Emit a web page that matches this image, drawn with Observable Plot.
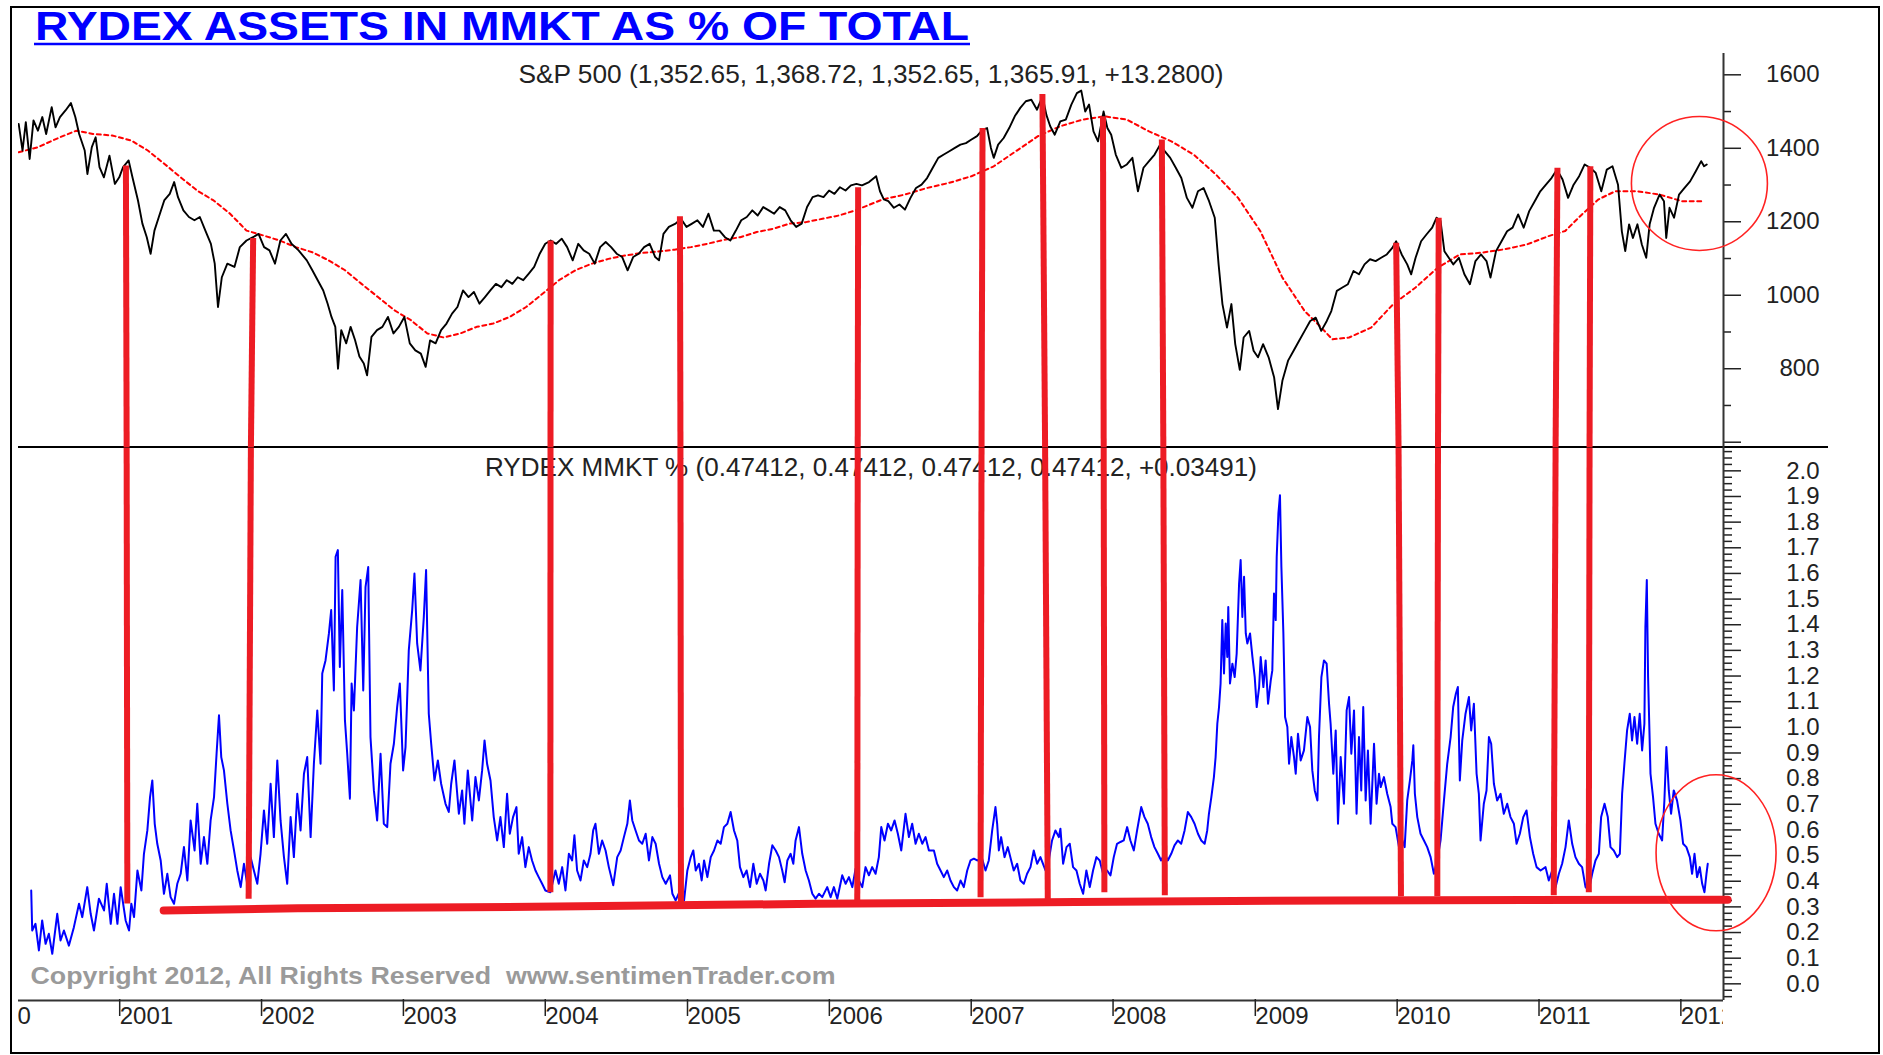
<!DOCTYPE html>
<html><head><meta charset="utf-8">
<script src="https://cdn.jsdelivr.net/npm/d3@7"></script>
<script src="https://cdn.jsdelivr.net/npm/@observablehq/plot@0.6"></script>
<style>
body{margin:0;background:#fff;}
#chart{position:relative;width:1883px;height:1055px;background:#fff;overflow:hidden;font-family:"Liberation Sans",Arial,sans-serif;}
#frame{position:absolute;left:10px;top:6px;width:1870px;height:1048px;border:2.5px solid #000;box-sizing:border-box;}
#sep{position:absolute;left:18px;top:446.3px;width:1810px;height:1.6px;background:#000;}
#top{position:absolute;left:18px;top:46px;}
#bottom{position:absolute;left:18px;top:447px;}
#xaxis{position:absolute;left:18px;top:999px;}
#top svg,#bottom svg,#xaxis svg{overflow:hidden;background:transparent;}
#title{position:absolute;left:0;top:0;}
</style></head><body>
<div id="chart">
<div id="frame"></div>
<svg id="title" width="1000" height="50"></svg>
<div id="sep"></div>
<div id="top"></div>
<div id="bottom"></div>
<div id="xaxis"></div>
</div>
<script>
const titleText = "RYDEX ASSETS IN MMKT AS % OF TOTAL";
const spxLabel = "S&P 500 (1,352.65, 1,368.72, 1,352.65, 1,365.91, +13.2800)";
const mmktLabel = "RYDEX MMKT % (0.47412, 0.47412, 0.47412, 0.47412, +0.03491)";
const copyrightText = "Copyright 2012, All Rights Reserved  www.sentimenTrader.com";
const yearTicks = [2000,2001,2002,2003,2004,2005,2006,2007,2008,2009,2010,2011,2012];
const spxTicks = [600,800,1000,1200,1400,1600];
const spxMinorTicks = [700,900,1100,1300,1500];
const mmktTicks = [0,0.1,0.2,0.3,0.4,0.5,0.6,0.7,0.8,0.9,1.0,1.1,1.2,1.3,1.4,1.5,1.6,1.7,1.8,1.9,2.0];

// S&P 500 [decimal year, value]
const spx = [[2000.304,1466],[2000.331,1394],[2000.354,1471],[2000.381,1371],[2000.408,1476],[2000.439,1448],[2000.470,1485],[2000.497,1439],[2000.536,1512],[2000.563,1457],[2000.594,1485],[2000.633,1503],[2000.671,1523],[2000.702,1485],[2000.729,1439],[2000.768,1394],[2000.787,1330],[2000.818,1403],[2000.845,1430],[2000.872,1349],[2000.903,1321],[2000.942,1380],[2000.980,1303],[2001.011,1321],[2001.038,1349],[2001.077,1367],[2001.104,1321],[2001.143,1258],[2001.174,1195],[2001.205,1158],[2001.232,1113],[2001.259,1176],[2001.290,1213],[2001.328,1258],[2001.367,1276],[2001.398,1308],[2001.425,1267],[2001.463,1231],[2001.502,1213],[2001.541,1204],[2001.579,1213],[2001.618,1176],[2001.657,1140],[2001.684,1086],[2001.707,968],[2001.734,1049],[2001.773,1086],[2001.823,1077],[2001.861,1131],[2001.908,1149],[2001.954,1158],[2001.993,1167],[2002.032,1131],[2002.070,1122],[2002.109,1086],[2002.147,1149],[2002.186,1167],[2002.225,1140],[2002.275,1122],[2002.333,1095],[2002.372,1068],[2002.410,1041],[2002.449,1013],[2002.480,977],[2002.507,941],[2002.534,914],[2002.553,800],[2002.576,905],[2002.611,869],[2002.642,914],[2002.673,878],[2002.704,833],[2002.735,814],[2002.758,782],[2002.789,887],[2002.828,905],[2002.866,914],[2002.905,941],[2002.944,896],[2002.982,914],[2003.021,941],[2003.059,869],[2003.098,850],[2003.137,841],[2003.171,805],[2003.202,877],[2003.241,869],[2003.280,905],[2003.318,923],[2003.357,950],[2003.395,968],[2003.434,1013],[2003.473,995],[2003.511,1009],[2003.550,977],[2003.589,995],[2003.627,1013],[2003.666,1031],[2003.705,1022],[2003.743,1041],[2003.782,1031],[2003.820,1049],[2003.859,1041],[2003.898,1059],[2003.936,1077],[2003.975,1113],[2004.014,1140],[2004.052,1149],[2004.091,1140],[2004.130,1154],[2004.168,1131],[2004.207,1095],[2004.246,1140],[2004.284,1122],[2004.323,1113],[2004.362,1086],[2004.400,1131],[2004.439,1145],[2004.477,1131],[2004.516,1113],[2004.555,1104],[2004.593,1068],[2004.632,1104],[2004.671,1113],[2004.709,1131],[2004.748,1140],[2004.787,1104],[2004.814,1095],[2004.845,1167],[2004.883,1186],[2004.930,1195],[2004.968,1208],[2005.007,1186],[2005.046,1195],[2005.084,1204],[2005.123,1186],[2005.162,1222],[2005.200,1176],[2005.239,1176],[2005.278,1158],[2005.316,1149],[2005.355,1176],[2005.393,1204],[2005.432,1213],[2005.471,1231],[2005.509,1217],[2005.548,1240],[2005.587,1231],[2005.625,1222],[2005.664,1240],[2005.703,1231],[2005.741,1204],[2005.780,1186],[2005.819,1195],[2005.857,1240],[2005.896,1267],[2005.934,1272],[2005.973,1267],[2006.012,1285],[2006.050,1276],[2006.089,1294],[2006.128,1285],[2006.166,1299],[2006.205,1303],[2006.244,1299],[2006.294,1308],[2006.344,1324],[2006.371,1283],[2006.398,1261],[2006.430,1256],[2006.469,1238],[2006.508,1247],[2006.547,1233],[2006.586,1265],[2006.625,1292],[2006.664,1301],[2006.703,1319],[2006.743,1347],[2006.782,1374],[2006.821,1383],[2006.860,1392],[2006.899,1401],[2006.938,1410],[2006.977,1414],[2007.016,1424],[2007.055,1433],[2007.094,1451],[2007.126,1455],[2007.153,1401],[2007.173,1374],[2007.204,1410],[2007.243,1428],[2007.282,1455],[2007.321,1487],[2007.360,1510],[2007.399,1528],[2007.438,1532],[2007.478,1505],[2007.517,1541],[2007.544,1491],[2007.571,1460],[2007.603,1437],[2007.642,1473],[2007.681,1478],[2007.720,1519],[2007.759,1550],[2007.790,1557],[2007.818,1500],[2007.845,1519],[2007.876,1446],[2007.908,1419],[2007.947,1500],[2007.974,1455],[2008.001,1437],[2008.033,1383],[2008.072,1347],[2008.111,1356],[2008.150,1374],[2008.189,1283],[2008.228,1347],[2008.267,1365],[2008.306,1383],[2008.345,1410],[2008.377,1392],[2008.416,1374],[2008.455,1347],[2008.494,1319],[2008.533,1265],[2008.572,1238],[2008.611,1283],[2008.650,1292],[2008.689,1256],[2008.729,1211],[2008.756,1084],[2008.783,976],[2008.815,912],[2008.846,976],[2008.873,867],[2008.905,797],[2008.932,885],[2008.971,903],[2009.002,849],[2009.033,831],[2009.069,867],[2009.108,831],[2009.147,776],[2009.174,690],[2009.205,767],[2009.245,822],[2009.284,849],[2009.323,876],[2009.362,903],[2009.401,930],[2009.440,939],[2009.479,903],[2009.518,930],[2009.550,957],[2009.589,1012],[2009.628,1021],[2009.667,1030],[2009.706,1066],[2009.745,1057],[2009.784,1084],[2009.823,1098],[2009.862,1093],[2009.901,1102],[2009.941,1111],[2009.980,1129],[2010.007,1147],[2010.046,1111],[2010.085,1084],[2010.113,1057],[2010.144,1102],[2010.183,1147],[2010.222,1166],[2010.261,1184],[2010.292,1211],[2010.320,1202],[2010.347,1120],[2010.378,1102],[2010.410,1084],[2010.449,1102],[2010.488,1057],[2010.527,1030],[2010.566,1093],[2010.605,1111],[2010.644,1093],[2010.672,1048],[2010.711,1120],[2010.750,1147],[2010.789,1174],[2010.828,1184],[2010.867,1220],[2010.906,1184],[2010.945,1229],[2010.984,1256],[2011.023,1283],[2011.063,1301],[2011.102,1319],[2011.141,1342],[2011.180,1315],[2011.219,1265],[2011.258,1301],[2011.297,1324],[2011.336,1356],[2011.375,1347],[2011.414,1333],[2011.453,1283],[2011.492,1342],[2011.532,1351],[2011.571,1301],[2011.598,1174],[2011.622,1120],[2011.649,1193],[2011.676,1156],[2011.708,1193],[2011.739,1138],[2011.770,1102],[2011.794,1193],[2011.825,1238],[2011.864,1274],[2011.895,1256],[2011.911,1156],[2011.934,1238],[2011.966,1211],[2012.001,1274],[2012.040,1292],[2012.079,1310],[2012.118,1337],[2012.157,1365],[2012.177,1351],[2012.196,1356]];

// S&P 500 moving average (red dashed)
const spxMA = [[2000.304,1389],[2000.439,1403],[2000.594,1430],[2000.710,1448],[2000.826,1439],[2000.961,1435],[2001.096,1421],[2001.212,1394],[2001.328,1358],[2001.444,1321],[2001.560,1285],[2001.676,1258],[2001.792,1222],[2001.908,1176],[2002.024,1163],[2002.140,1149],[2002.256,1131],[2002.372,1117],[2002.487,1095],[2002.603,1068],[2002.719,1031],[2002.835,995],[2002.951,959],[2003.067,932],[2003.183,896],[2003.299,885],[2003.415,896],[2003.531,914],[2003.647,923],[2003.763,941],[2003.879,968],[2003.995,1004],[2004.111,1041],[2004.226,1068],[2004.342,1086],[2004.458,1099],[2004.574,1108],[2004.690,1115],[2004.806,1119],[2004.922,1124],[2005.038,1131],[2005.154,1140],[2005.270,1151],[2005.386,1158],[2005.502,1172],[2005.618,1181],[2005.734,1195],[2005.849,1199],[2005.965,1208],[2006.081,1217],[2006.197,1231],[2006.391,1261],[2006.547,1274],[2006.703,1292],[2006.860,1306],[2007.016,1324],[2007.173,1351],[2007.329,1392],[2007.485,1433],[2007.642,1460],[2007.798,1478],[2007.954,1487],[2008.111,1478],[2008.267,1446],[2008.424,1419],[2008.580,1383],[2008.736,1329],[2008.893,1265],[2009.049,1175],[2009.205,1048],[2009.362,957],[2009.479,912],[2009.557,880],[2009.675,885],[2009.831,912],[2009.987,976],[2010.144,1021],[2010.300,1075],[2010.456,1111],[2010.613,1116],[2010.769,1125],[2010.926,1138],[2011.082,1161],[2011.199,1175],[2011.317,1220],[2011.434,1261],[2011.551,1283],[2011.708,1283],[2011.864,1274],[2012.021,1256],[2012.177,1256]];

// Rydex MMKT % [decimal year, value]
const mmkt = [[2000.392,0.364],[2000.399,0.208],[2000.422,0.234],[2000.446,0.130],[2000.469,0.247],[2000.493,0.156],[2000.516,0.195],[2000.540,0.117],[2000.575,0.273],[2000.598,0.169],[2000.622,0.208],[2000.657,0.149],[2000.692,0.221],[2000.728,0.312],[2000.751,0.260],[2000.786,0.377],[2000.810,0.273],[2000.833,0.208],[2000.868,0.332],[2000.904,0.286],[2000.923,0.390],[2000.951,0.234],[2000.974,0.351],[2000.998,0.234],[2001.021,0.377],[2001.056,0.247],[2001.080,0.208],[2001.096,0.312],[2001.115,0.260],[2001.139,0.442],[2001.167,0.364],[2001.185,0.507],[2001.209,0.598],[2001.228,0.728],[2001.244,0.793],[2001.261,0.624],[2001.279,0.546],[2001.303,0.481],[2001.326,0.351],[2001.350,0.429],[2001.373,0.338],[2001.397,0.312],[2001.420,0.390],[2001.444,0.429],[2001.467,0.533],[2001.491,0.403],[2001.514,0.637],[2001.542,0.520],[2001.561,0.702],[2001.585,0.468],[2001.608,0.572],[2001.632,0.468],[2001.655,0.637],[2001.679,0.728],[2001.697,0.897],[2001.714,1.047],[2001.730,0.884],[2001.749,0.832],[2001.773,0.702],[2001.796,0.598],[2001.820,0.520],[2001.843,0.442],[2001.867,0.377],[2001.890,0.468],[2001.913,0.390],[2001.937,0.494],[2001.960,0.442],[2001.984,0.390],[2002.007,0.507],[2002.031,0.676],[2002.054,0.546],[2002.078,0.780],[2002.101,0.572],[2002.125,0.871],[2002.148,0.637],[2002.172,0.494],[2002.195,0.390],[2002.219,0.650],[2002.242,0.494],[2002.266,0.741],[2002.289,0.598],[2002.313,0.819],[2002.336,0.884],[2002.360,0.572],[2002.383,0.858],[2002.407,1.066],[2002.430,0.858],[2002.442,1.210],[2002.465,1.261],[2002.489,1.366],[2002.505,1.457],[2002.524,1.144],[2002.536,1.665],[2002.552,1.691],[2002.566,1.235],[2002.583,1.535],[2002.602,1.027],[2002.618,0.897],[2002.637,0.722],[2002.649,1.171],[2002.665,1.066],[2002.688,1.391],[2002.712,1.574],[2002.731,1.144],[2002.747,1.547],[2002.766,1.625],[2002.782,0.962],[2002.806,0.754],[2002.829,0.637],[2002.853,0.897],[2002.876,0.624],[2002.900,0.611],[2002.923,0.858],[2002.947,0.936],[2002.970,1.079],[2002.989,1.171],[2003.012,0.832],[2003.029,0.923],[2003.052,1.300],[2003.076,1.457],[2003.092,1.600],[2003.111,1.327],[2003.134,1.222],[2003.158,1.430],[2003.174,1.613],[2003.193,1.053],[2003.210,0.936],[2003.233,0.793],[2003.257,0.871],[2003.280,0.780],[2003.311,0.702],[2003.334,0.670],[2003.351,0.780],[2003.374,0.871],[2003.405,0.663],[2003.428,0.754],[2003.444,0.624],[2003.468,0.832],[2003.499,0.637],[2003.522,0.806],[2003.546,0.715],[2003.569,0.832],[2003.586,0.949],[2003.604,0.858],[2003.628,0.793],[2003.651,0.650],[2003.675,0.559],[2003.698,0.650],[2003.722,0.533],[2003.745,0.741],[2003.764,0.585],[2003.787,0.650],[2003.811,0.689],[2003.827,0.507],[2003.851,0.572],[2003.874,0.455],[2003.898,0.533],[2003.921,0.481],[2003.945,0.442],[2003.968,0.416],[2003.992,0.390],[2004.015,0.364],[2004.050,0.357],[2004.086,0.442],[2004.109,0.390],[2004.133,0.455],[2004.156,0.364],[2004.180,0.507],[2004.203,0.481],[2004.219,0.579],[2004.238,0.442],[2004.262,0.403],[2004.285,0.481],[2004.309,0.455],[2004.332,0.507],[2004.351,0.598],[2004.367,0.624],[2004.391,0.507],[2004.414,0.559],[2004.438,0.520],[2004.461,0.455],[2004.492,0.384],[2004.520,0.494],[2004.544,0.520],[2004.567,0.572],[2004.591,0.624],[2004.609,0.715],[2004.626,0.637],[2004.649,0.598],[2004.673,0.559],[2004.696,0.546],[2004.720,0.585],[2004.743,0.481],[2004.767,0.572],[2004.790,0.546],[2004.814,0.468],[2004.837,0.416],[2004.861,0.390],[2004.891,0.423],[2004.908,0.351],[2004.931,0.325],[2004.962,0.364],[2004.990,0.325],[2005.013,0.442],[2005.037,0.494],[2005.055,0.520],[2005.072,0.442],[2005.095,0.468],[2005.114,0.403],[2005.131,0.481],[2005.154,0.416],[2005.178,0.494],[2005.201,0.520],[2005.225,0.559],[2005.248,0.546],[2005.271,0.611],[2005.295,0.624],[2005.318,0.670],[2005.342,0.598],[2005.365,0.559],[2005.384,0.455],[2005.408,0.416],[2005.431,0.442],[2005.455,0.377],[2005.478,0.468],[2005.502,0.390],[2005.525,0.429],[2005.549,0.403],[2005.565,0.364],[2005.589,0.468],[2005.612,0.540],[2005.636,0.520],[2005.659,0.494],[2005.682,0.442],[2005.699,0.396],[2005.718,0.481],[2005.741,0.507],[2005.760,0.468],[2005.776,0.559],[2005.800,0.611],[2005.823,0.507],[2005.847,0.442],[2005.870,0.403],[2005.894,0.351],[2005.917,0.332],[2005.941,0.351],[2005.964,0.338],[2005.999,0.377],[2006.023,0.338],[2006.046,0.377],[2006.070,0.332],[2006.105,0.423],[2006.129,0.390],[2006.152,0.416],[2006.176,0.377],[2006.199,0.449],[2006.222,0.403],[2006.246,0.377],[2006.269,0.455],[2006.293,0.423],[2006.316,0.455],[2006.340,0.429],[2006.363,0.494],[2006.380,0.611],[2006.403,0.559],[2006.427,0.624],[2006.450,0.598],[2006.474,0.637],[2006.497,0.585],[2006.521,0.520],[2006.551,0.663],[2006.575,0.572],[2006.598,0.624],[2006.622,0.546],[2006.645,0.585],[2006.669,0.546],[2006.692,0.572],[2006.716,0.520],[2006.751,0.520],[2006.774,0.468],[2006.798,0.442],[2006.821,0.416],[2006.845,0.442],[2006.868,0.403],[2006.892,0.377],[2006.915,0.364],[2006.939,0.403],[2006.962,0.377],[2006.986,0.442],[2007.009,0.481],[2007.033,0.488],[2007.056,0.481],[2007.091,0.488],[2007.115,0.442],[2007.138,0.481],[2007.162,0.598],[2007.185,0.689],[2007.197,0.624],[2007.209,0.520],[2007.225,0.572],[2007.249,0.494],[2007.272,0.533],[2007.296,0.481],[2007.314,0.442],[2007.338,0.468],[2007.361,0.403],[2007.385,0.390],[2007.408,0.429],[2007.432,0.455],[2007.455,0.520],[2007.479,0.468],[2007.502,0.494],[2007.538,0.442],[2007.561,0.481],[2007.584,0.559],[2007.608,0.598],[2007.632,0.572],[2007.643,0.605],[2007.662,0.468],[2007.686,0.533],[2007.709,0.546],[2007.732,0.455],[2007.756,0.442],[2007.779,0.390],[2007.803,0.351],[2007.826,0.442],[2007.850,0.377],[2007.873,0.442],[2007.897,0.494],[2007.920,0.481],[2007.944,0.429],[2007.972,0.442],[2007.996,0.423],[2008.019,0.494],[2008.042,0.546],[2008.066,0.553],[2008.089,0.559],[2008.113,0.611],[2008.136,0.559],[2008.160,0.520],[2008.183,0.598],[2008.212,0.689],[2008.235,0.650],[2008.258,0.624],[2008.282,0.572],[2008.305,0.533],[2008.329,0.507],[2008.352,0.481],[2008.376,0.507],[2008.399,0.481],[2008.423,0.507],[2008.446,0.540],[2008.470,0.559],[2008.493,0.546],[2008.517,0.598],[2008.540,0.670],[2008.564,0.650],[2008.587,0.624],[2008.611,0.585],[2008.634,0.559],[2008.658,0.546],[2008.676,0.598],[2008.688,0.663],[2008.705,0.728],[2008.723,0.806],[2008.735,0.884],[2008.747,1.014],[2008.759,1.079],[2008.770,1.171],[2008.782,1.418],[2008.794,1.210],[2008.806,1.405],[2008.817,1.274],[2008.824,1.469],[2008.836,1.171],[2008.853,1.248],[2008.869,1.196],[2008.883,1.287],[2008.900,1.561],[2008.911,1.652],[2008.923,1.430],[2008.935,1.587],[2008.947,1.366],[2008.958,1.327],[2008.977,1.366],[2008.994,1.274],[2009.010,1.196],[2009.024,1.079],[2009.041,1.157],[2009.052,1.274],[2009.071,1.157],[2009.087,1.261],[2009.104,1.092],[2009.123,1.183],[2009.134,1.222],[2009.146,1.522],[2009.158,1.418],[2009.165,1.665],[2009.177,1.834],[2009.188,1.905],[2009.198,1.625],[2009.212,1.366],[2009.224,1.040],[2009.240,1.001],[2009.252,0.858],[2009.268,0.962],[2009.287,0.884],[2009.299,0.819],[2009.315,0.975],[2009.334,0.871],[2009.357,0.910],[2009.381,1.040],[2009.400,1.001],[2009.416,0.832],[2009.433,0.754],[2009.452,0.715],[2009.463,0.962],[2009.480,1.196],[2009.498,1.261],[2009.517,1.248],[2009.534,1.092],[2009.545,1.014],[2009.564,0.819],[2009.581,0.988],[2009.597,0.624],[2009.616,0.884],[2009.639,0.702],[2009.658,1.066],[2009.675,1.118],[2009.691,0.897],[2009.710,1.066],[2009.728,0.663],[2009.745,0.962],[2009.761,0.754],[2009.775,1.079],[2009.792,0.715],[2009.808,0.910],[2009.827,0.624],[2009.851,0.936],[2009.869,0.702],[2009.886,0.819],[2009.898,0.767],[2009.921,0.806],[2009.944,0.741],[2009.968,0.689],[2009.980,0.624],[2010.003,0.611],[2010.027,0.533],[2010.050,0.559],[2010.067,0.533],[2010.085,0.715],[2010.104,0.793],[2010.121,0.871],[2010.128,0.930],[2010.139,0.741],[2010.156,0.650],[2010.179,0.585],[2010.203,0.559],[2010.226,0.533],[2010.250,0.494],[2010.273,0.429],[2010.297,0.481],[2010.320,0.559],[2010.344,0.715],[2010.367,0.858],[2010.391,0.962],[2010.409,1.079],[2010.428,1.131],[2010.442,1.157],[2010.456,0.793],[2010.473,0.949],[2010.496,1.053],[2010.520,1.118],[2010.536,0.988],[2010.555,1.092],[2010.574,0.819],[2010.590,0.741],[2010.602,0.559],[2010.625,0.702],[2010.644,0.754],[2010.661,0.962],[2010.677,0.936],[2010.696,0.780],[2010.719,0.715],[2010.743,0.741],[2010.766,0.663],[2010.790,0.702],[2010.813,0.650],[2010.837,0.624],[2010.856,0.546],[2010.879,0.585],[2010.903,0.650],[2010.926,0.676],[2010.950,0.572],[2010.973,0.507],[2010.997,0.455],[2011.025,0.442],[2011.060,0.455],[2011.083,0.403],[2011.107,0.442],[2011.131,0.377],[2011.154,0.429],[2011.177,0.468],[2011.201,0.533],[2011.224,0.637],[2011.248,0.546],[2011.271,0.494],[2011.295,0.468],[2011.318,0.455],[2011.342,0.377],[2011.365,0.364],[2011.389,0.429],[2011.412,0.481],[2011.436,0.507],[2011.452,0.650],[2011.476,0.702],[2011.499,0.650],[2011.518,0.533],[2011.541,0.520],[2011.565,0.494],[2011.584,0.507],[2011.600,0.741],[2011.616,0.858],[2011.635,0.988],[2011.654,1.053],[2011.670,0.949],[2011.687,1.040],[2011.706,0.936],[2011.724,1.053],[2011.741,0.910],[2011.757,1.014],[2011.764,1.391],[2011.774,1.574],[2011.783,1.196],[2011.800,0.819],[2011.818,0.728],[2011.835,0.624],[2011.858,0.585],[2011.882,0.559],[2011.898,0.715],[2011.912,0.923],[2011.929,0.754],[2011.945,0.663],[2011.964,0.754],[2011.987,0.715],[2012.011,0.637],[2012.030,0.546],[2012.053,0.533],[2012.077,0.494],[2012.093,0.429],[2012.110,0.507],[2012.128,0.416],[2012.147,0.455],[2012.164,0.390],[2012.180,0.357],[2012.194,0.429],[2012.203,0.468]];

// hand-drawn annotations: vertical red lines (top at S&P peak, bottom at MMKT low)
const signalTop = [[2001.058,1353],[2001.955,1156],[2004.052,1149],[2004.961,1215],[2006.217,1294],[2007.094,1455],[2007.516,1548],[2007.943,1487],[2008.357,1424],[2010.007,1143],[2010.307,1211],[2011.144,1347],[2011.376,1351]];
const signalBottom = [[2001.068,0.313],[2001.923,0.332],[2004.050,0.357],[2004.968,0.318],[2006.211,0.325],[2007.080,0.338],[2007.554,0.325],[2007.953,0.357],[2008.378,0.345],[2010.041,0.341],[2010.297,0.341],[2011.118,0.345],[2011.365,0.357]];
// red horizontal floor line
const floorLine = [[2001.324,0.286],[2002.268,0.295],[2004.100,0.301],[2005.917,0.312],[2007.749,0.319],[2009.581,0.325],[2012.343,0.328]];
// red circles [decimal year, value]
const circleTop = [2012.148,1303];
const ellipseBottom = [2012.265,0.509];

function ydate(y){const yr=Math.floor(y);const a=Date.UTC(yr,0,1),b=Date.UTC(yr+1,0,1);return new Date(a+(y-yr)*(b-a));}
const X0 = ydate(2000.3026), X1 = ydate(2012.3138);
const TOP_Y = [585.6,1658], BOT_Y = [-0.065,2.091];
const RED = "#ed1c24";
const FONT = "'Liberation Sans', Arial, sans-serif";
const signals = signalTop.map((t,i)=>({tTop:t[0], vTop:t[1], tBot:signalBottom[i][0], vBot:signalBottom[i][1], tMid:(t[0]+signalBottom[i][0])/2}));
const minorBottom = d3.range(-0.05,2.09,0.025).filter(v=>Math.abs(v*10-Math.round(v*10))>0.01);

function ellipseMark(c, rx, ry){
  return (index, scales) => {
    const e = document.createElementNS("http://www.w3.org/2000/svg","ellipse");
    e.setAttribute("cx", scales.x(ydate(c[0])));
    e.setAttribute("cy", scales.y(c[1]));
    e.setAttribute("rx", rx); e.setAttribute("ry", ry);
    e.setAttribute("fill","none"); e.setAttribute("stroke","#ff2222"); e.setAttribute("stroke-width","1.6");
    return e;
  };
}
function stretch(svg, str, len){
  d3.select(svg).selectAll("text").filter(function(){return this.textContent===str;})
    .attr("textLength",len).attr("lengthAdjust","spacingAndGlyphs");
}

// title
{
  const t = d3.select("#title");
  t.append("text").attr("x",35).attr("y",39.5).attr("font-family",FONT).attr("font-weight","bold")
   .attr("font-size",41).attr("fill","#0000ff").attr("textLength",934).attr("lengthAdjust","spacingAndGlyphs").text(titleText);
  t.append("line").attr("x1",34).attr("x2",970).attr("y1",44).attr("y2",44).attr("stroke","#0000ff").attr("stroke-width",2.4);
}

const topPlot = Plot.plot({
  width:1832, height:401, marginLeft:0, marginRight:127, marginTop:7, marginBottom:0,
  style:{background:"transparent", overflow:"hidden", fontFamily:FONT, color:"#222"},
  x:{type:"utc", domain:[X0,X1], axis:null, label:null},
  y:{domain:TOP_Y, axis:null, label:null},
  marks:[
    Plot.axisY(spxMinorTicks,{anchor:"right", label:null, tickSize:7, strokeWidth:1.5, tickFormat:()=>""}),
    Plot.axisY(spxTicks,{anchor:"right", label:null, tickSize:17, tickPadding:79, textAnchor:"end", fontSize:24, strokeWidth:1.5, tickFormat:d=>d===600?"":String(d)}),
    Plot.ruleX([X1],{stroke:"#333", strokeWidth:2}),
    Plot.text([spxLabel],{frameAnchor:"top", dy:21, lineAnchor:"middle", fontSize:25, fill:"#222"}),
    Plot.line(spxMA,{x:d=>ydate(d[0]), y:d=>d[1], stroke:"#ff0000", strokeWidth:2, strokeDasharray:"4,3.5"}),
    Plot.line(spx,{x:d=>ydate(d[0]), y:d=>d[1], stroke:"#000", strokeWidth:1.9}),
    Plot.link(signals,{x1:d=>ydate(d.tTop), y1:d=>d.vTop, x2:d=>ydate(d.tMid), y2:TOP_Y[0], stroke:RED, strokeWidth:6}),
    ellipseMark(circleTop, 68, 67)
  ]
});
document.getElementById("top").append(topPlot);
stretch(topPlot, spxLabel, 705);

const bottomPlot = Plot.plot({
  width:1832, height:553, marginLeft:0, marginRight:127, marginTop:0, marginBottom:0,
  style:{background:"transparent", overflow:"hidden", fontFamily:FONT, color:"#222"},
  x:{type:"utc", domain:[X0,X1], axis:null, label:null},
  y:{domain:BOT_Y, axis:null, label:null},
  marks:[
    Plot.axisY(minorBottom,{anchor:"right", label:null, tickSize:8, strokeWidth:1.5, tickFormat:()=>""}),
    Plot.axisY(mmktTicks,{anchor:"right", label:null, tickSize:17, tickPadding:79, textAnchor:"end", fontSize:24, strokeWidth:1.5, tickFormat:d=>d.toFixed(1)}),
    Plot.ruleX([X1],{stroke:"#333", strokeWidth:2}),
    Plot.text([mmktLabel],{frameAnchor:"top", dy:20, lineAnchor:"middle", fontSize:25, fill:"#222"}),
    Plot.text([copyrightText],{frameAnchor:"bottom-left", dx:12, dy:-24, lineAnchor:"middle", textAnchor:"start", fontSize:24, fontWeight:"bold", fill:"#9a9a9a"}),
    Plot.line(mmkt,{x:d=>ydate(d[0]), y:d=>d[1], stroke:"#0000ff", strokeWidth:2}),
    Plot.line(floorLine,{x:d=>ydate(d[0]), y:d=>d[1], stroke:RED, strokeWidth:8, strokeLinecap:"round"}),
    Plot.link(signals,{x1:d=>ydate(d.tMid), y1:BOT_Y[1], x2:d=>ydate(d.tBot), y2:d=>d.vBot, stroke:RED, strokeWidth:6}),
    ellipseMark(ellipseBottom, 60, 78)
  ]
});
document.getElementById("bottom").append(bottomPlot);
stretch(bottomPlot, mmktLabel, 772);
stretch(bottomPlot, copyrightText, 805);

const xPlot = Plot.plot({
  width:1705, height:40, marginLeft:0, marginRight:0, marginTop:0, marginBottom:39,
  style:{background:"transparent", overflow:"hidden", fontFamily:FONT, color:"#222"},
  x:{type:"utc", domain:[X0,X1], axis:null, label:null},
  y:{domain:[0,1], axis:null, label:null},
  marks:[
    Plot.ruleY([0],{stroke:"#333", strokeWidth:2}),
    Plot.axisX(yearTicks.map(y=>ydate(y)),{anchor:"bottom", label:null, tickSize:31, tickPadding:0, strokeWidth:1.5, textAnchor:"start", lineAnchor:"middle", dx:2, dy:-15, fontSize:24, tickFormat:d=>String(d.getUTCFullYear())})
  ]
});
document.getElementById("xaxis").append(xPlot);
</script>
</body></html>
